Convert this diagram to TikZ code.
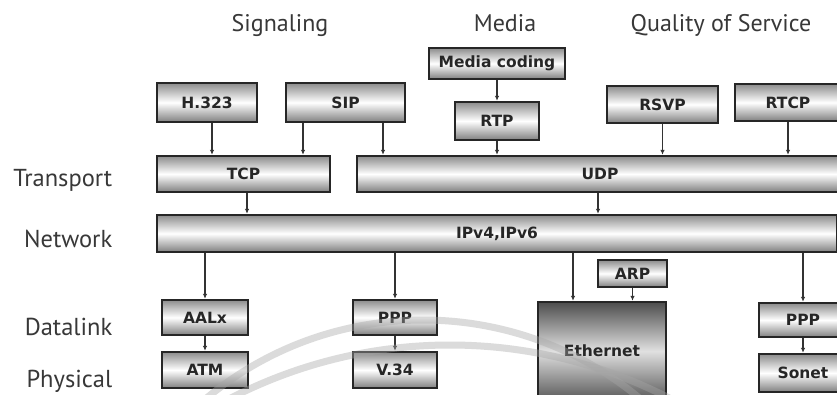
\documentclass[tikz,border=0pt]{standalone}
\usepackage{fontspec}
\setmainfont{PT Sans}
\newfontfamily\boxfont{DejaVu Sans}
\usetikzlibrary{arrows.meta}

\begin{document}
\begin{tikzpicture}[x=1pt, y=-1pt, thick,
  layer/.style={draw=black!85, line width=2.4pt, top color=black!45, bottom color=black!50, middle color=white, text=black!85, font=\boxfont\bfseries\fontsize{15.5}{15.5}\selectfont, inner sep=0pt},
  ethbox/.style={layer, top color=black!70, bottom color=black!65, middle color=black!12},
  head/.style={anchor=base, text=black!78, font=\fontsize{24}{24}\selectfont},
  side/.style={anchor=base east, text=black!78, font=\fontsize{24.5}{24.5}\selectfont},
  arr/.style={-{Latex[length=5pt,width=4.5pt]}, line width=1.3pt, draw=black!80},
  wmark/.style={draw=black!35, line width=7pt, opacity=0.4}]
\useasboundingbox (0,0) rectangle (837,394);
\clip (0,0) rectangle (837,394);
\fill[white] (0,0) rectangle (837,394);
% column and row titles
\node[head] (sig) at (280,31) {Signaling};
\node[head] (med) at (505,31) {Media};
\node[head] (qos) at (721,31) {Quality of Service};
\node[side] (trans) at (116,186) {Transport};
\node[side] (net) at (116,247) {Network};
\node[side] (dlink) at (116,335) {Datalink};
\node[side] (phys) at (116,387) {Physical};
% upper boxes
\node[layer, minimum width=100, minimum height=39] (h323) at (207,102.5) {H.323};
\node[layer, minimum width=119, minimum height=39] (sip) at (345.5,102.5) {SIP};
\node[layer, minimum width=136, minimum height=31] (mcod) at (497,63.5) {Media coding};
\node[layer, minimum width=84, minimum height=38] (rtp) at (497,121) {RTP};
\node[layer, minimum width=111, minimum height=37] (rsvp) at (662.5,104.5) {RSVP};
\node[layer, minimum width=106, minimum height=37] (rtcp) at (788,102.5) {RTCP};
% transport and network
\node[layer, minimum width=173, minimum height=36] (tcp) at (243.5,174) {TCP};
\node[layer, minimum width=486, minimum height=36] (udp) at (600,174) {UDP};
\node[layer, minimum width=680, minimum height=37] (ip) at (497,233.5) {IPv4,IPv6};
% datalink and physical
\node[layer, minimum width=86, minimum height=35] (aal) at (205,317.5) {AALx};
\node[layer, minimum width=86, minimum height=36] (atm) at (205,370) {ATM};
\node[layer, minimum width=84, minimum height=35] (ppp) at (395,317.5) {PPP};
\node[layer, minimum width=84, minimum height=36] (v34) at (395,370) {V.34};
\node[layer, minimum width=69, minimum height=27] (arp) at (632.5,273.5) {ARP};
\node[ethbox, minimum width=128, minimum height=98] (eth) at (602,351) {Ethernet};
\node[layer, minimum width=88, minimum height=34] (ppp2) at (803,320) {PPP};
\node[layer, minimum width=88, minimum height=38] (sonet) at (803,373) {Sonet};
% arrows
\draw[arr] ([xshift=5pt]h323.south) -- ([xshift=5pt]h323.south |- tcp.north);
\draw[arr] ([xshift=-42.5pt]sip.south) -- ([xshift=-42.5pt]sip.south |- tcp.north);
\draw[arr] ([xshift=37.5pt]sip.south) -- ([xshift=37.5pt]sip.south |- udp.north);
\draw[arr] (mcod) -- (rtp);
\draw[arr] (rtp.south) -- (rtp.south |- udp.north);
\draw[arr] (rsvp.south) -- (rsvp.south |- udp.north);
\draw[arr] (rtcp.south) -- (rtcp.south |- udp.north);
\draw[arr] ([xshift=3.5pt]tcp.south) -- ([xshift=3.5pt]tcp.south |- ip.north);
\draw[arr] ([xshift=-2pt]udp.south) -- ([xshift=-2pt]udp.south |- ip.north);
\draw[arr] (ip.south -| aal.north) -- (aal.north);
\draw[arr] (ip.south -| ppp.north) -- (ppp.north);
\draw[arr] (ip.south -| 573,0) -- ([xshift=-29pt]eth.north);
\draw[arr] (ip.south -| ppp2.north) -- (ppp2.north);
\draw[arr] (arp) -- (arp.south |- eth.north);
\draw[arr] (aal) -- (atm);
\draw[arr] (ppp) -- (v34);
\draw[arr] (ppp2) -- (sonet);
% faint arcs across the lower part
\draw[wmark] (423,659) ++(132:339pt) arc[start angle=132, end angle=48, radius=339pt];
\draw[wmark] (450,824) ++(119:479pt) arc[start angle=119, end angle=61, radius=479pt];
\end{tikzpicture}
\end{document}
